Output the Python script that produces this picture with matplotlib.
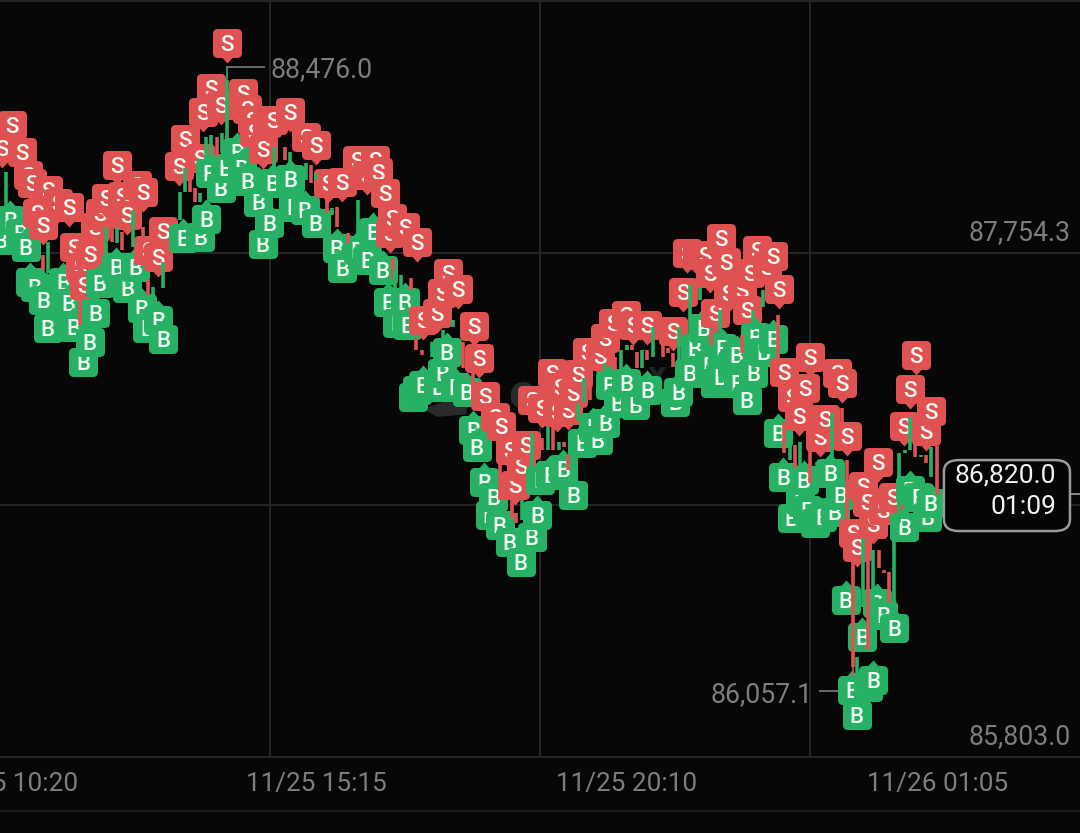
"""Price chart with buy/sell flags, dark theme."""
import matplotlib
matplotlib.use("Agg")
import matplotlib.pyplot as plt
from matplotlib.path import Path
from matplotlib.patches import FancyBboxPatch

plt.rcParams["font.family"] = ["Roboto", "DejaVu Sans"]

BG     = "#070707"
GRID   = "#262626"
RED    = "#e05252"
GREEN  = "#27b165"
LABEL  = "#7d7d7d"

# ── tick / grid values ───────────────────────────────────────────────────────
time_ticks  = [8, 346, 685, 1024]
time_labels = ["11/25 10:20", "11/25 15:15", "11/25 20:10", "11/26 01:05"]
grid_times  = [295, 590, 885]
grid_prices = [88730.0, 87754.3, 86778.6, 85803.0]
price_labels = [87754.3, 85803.0]
price_high  = 88476.0
price_low   = 86057.1
price_last  = 86820.0
countdown   = "01:09"

# ── sell flags ───────────────────────────────────────────────────────────────
sell_t = [13, 24, 31, 35, 52, 63, 75, 40, 47, 128, 150, 156, 133, 116, 109, 104, 139, 178, 162, 173,
          81, 98, 87, 92, 248, 231, 241, 222, 266, 270, 275, 278, 287, 292, 317, 298, 334, 345, 202,
          219, 196, 374, 358, 390, 2,
          410, 401, 413, 421, 428, 442, 456, 426, 489, 500, 483, 477, 462, 518, 523, 530, 541, 547,
          557, 575, 569, 563, 581, 592, 603, 612, 609, 621, 626, 632, 641, 656, 661, 670, 684, 692,
          707, 735, 746, 751, 762, 770, 776, 788, 793, 781, 811, 816, 827, 845, 819, 838, 851, 795,
          857, 885, 914, 920, 880, 865, 873, 896, 901, 925, 959, 943, 947, 965, 976, 954, 932, 936,
          1001, 994, 1017, 988, 1012]
sell_p = [88250, 88145, 88056, 88025, 87998, 87948, 87932, 87909, 87863, 88095, 88018, 87991, 87975,
          87967, 87909, 87855, 87902, 87840, 87766, 87739,
          87778, 87751, 87700, 87630, 88568, 88393, 88327, 88300, 88374, 88312, 88269, 88223, 88157,
          88258, 88300, 88269, 88204, 88173, 88196,
          88122, 88091, 88029, 88025, 88114, 88161,
          88114, 88056, 88068, 87987, 87890, 87855, 87797, 87832, 87677, 87615, 87600, 87522, 87495,
          87472, 87348, 87201, 87119, 87084,
          86992, 87011, 86930, 86856, 87185, 87154, 87290, 87236, 87139, 87146, 87212, 87286, 87371,
          87356, 87425, 87483, 87514, 87476,
          87476, 87452, 87603, 87754, 87747, 87747, 87677, 87812, 87720, 87522, 87611, 87534, 87766,
          87743, 87677, 87700, 87615, 87600,
          87294, 87352, 87290, 87251, 87232, 87197, 87123, 87042, 87112, 87046, 86945, 86852, 86790,
          86759, 86810, 86705, 86670, 86616,
          87359, 87228, 87143, 87084, 87065]

# ── buy flags ────────────────────────────────────────────────────────────────
buy_t = [11, 0, 22, 28, 33, 38, 47, 69, 75, 52, 80, 104, 98, 91, 127, 148, 109, 139, 155, 173, 161, 178,
         200, 219, 225, 229, 241, 246, 259, 264, 270, 282, 294, 287, 317, 298, 320, 333, 345, 368, 374,
         391, 408, 401, 418, 424, 442, 434, 445, 488, 483, 456, 451, 462, 479, 497, 510, 517, 521, 529,
         539, 535, 546, 557, 581, 587, 569, 590, 601, 615, 626, 636, 653, 648, 661, 666, 684, 675, 694,
         707, 738, 741, 753, 759, 768, 775, 787, 781, 789, 805, 800, 806, 823, 816, 825, 834, 845, 850,
         856, 878, 907, 918, 912, 874, 882, 865, 890, 898, 924, 958, 965, 977, 942, 954, 931, 948, 936,
         994, 1003, 1017, 1013, 988]
buy_p = [87882, 87805, 87832, 87778, 87642, 87623, 87572, 87642, 87561, 87464, 87468, 87522, 87410,
         87332, 87700, 87700, 87638, 87619, 87541, 87495, 87464, 87421,
         87812, 87816, 87886, 88064, 88006, 88084, 88145, 88084, 88033, 87952, 87871, 87789, 88041,
         88025, 87932, 87921, 87871, 87774, 87696,
         87766, 87836, 87727, 87689, 87565, 87565, 87483, 87476, 87371, 87290, 87224, 87197, 87243,
         87236, 87236, 87216, 87069, 87003, 86868,
         86810, 86740, 86701, 86635, 86655, 86740, 86558, 86875, 86895, 86918, 86817, 87019, 87030,
         87081, 87096, 87243, 87251, 87174, 87166,
         87224, 87177, 87216, 87290, 87387, 87464, 87321, 87274, 87251, 87387, 87359, 87321, 87251,
         87290, 87185, 87429, 87371, 87421, 87057,
         86887, 86875, 86902, 86817, 86752, 86798, 86759, 86728, 86709, 86732, 86411, 86399, 86353,
         86302, 86267, 86101, 86062, 86074, 85966,
         86837, 86810, 86786, 86732, 86693]

# ── candle bodies still visible between the flags ────────────────────────────
candle_t = [7, 47, 52, 87, 116, 128, 122, 133, 145, 156, 162, 167, 178, 184, 197, 202, 208, 213, 219,
            225, 231, 237, 243, 248, 268, 299, 311, 317, 334, 340, 345, 357, 363, 368, 380, 391,
            429, 432, 438, 449, 495, 455, 461, 472, 484, 506, 517, 535, 546, 559, 564, 570, 581, 592,
            599, 604, 611, 616, 621, 632, 638, 645, 661, 672, 678, 685, 691, 696, 701, 707, 713,
            724, 730, 735, 742, 754, 765, 777, 787, 794, 811, 823, 834, 850, 857, 863, 869, 874,
            885, 893, 909, 920, 925, 932, 936, 943, 948, 954, 960, 966, 971, 977, 982, 989, 994,
            1000, 1006, 1012, 1017, 1024]
candle_open = [87929, 87747, 87677, 87572, 87754, 87793, 87863, 87836, 87778, 87855, 87650, 87561,
               87619, 87754, 87882, 87991, 88049, 88006, 87952,
               88114, 88114, 88204, 88142, 88180, 88219, 88087, 88165, 88076, 88037, 88095, 88037,
               87960, 87902, 87932, 87832, 87832,
               87735, 87611, 87611, 87658, 87468, 87425, 87379, 87352, 87417, 87410, 87290, 86972,
               86941, 86798, 86748, 86721, 86825, 87038,
               86992, 87081, 86992, 87023, 86972, 87108, 87177, 87251, 87294, 87352, 87301, 87379,
               87398, 87371, 87309, 87379, 87352,
               87398, 87387, 87367, 87340, 87417, 87572, 87456, 87417, 87522, 87437, 87456, 87545,
               87514, 87096, 86953, 87011, 86922,
               87019, 86875, 86953, 87154, 86953, 86558, 86113, 86384, 86604, 86217, 86604, 86527,
               86519, 86399, 86709, 86980, 86992,
               87019, 86965, 86972, 86887, 87007]
candle_close = [88068, 87689, 87797, 87476, 87855, 87851, 87797, 87766, 87921, 87816, 87592, 87623,
                87720, 87689, 87991, 88084, 87991, 87952, 87987,
                88204, 88211, 88126, 88219, 88424, 88165, 88165, 88114, 88145, 88103, 88025, 88064,
                87909, 87929, 87855, 87793, 87960,
                87650, 87689, 87669, 87611, 87495, 87379, 87359, 87410, 87456, 87309, 87243, 87011,
                86798, 86728, 86709, 86798, 87057, 86992,
                87081, 86992, 87023, 87003, 86914, 87174, 87270, 87185, 87329, 87301, 87379, 87398,
                87379, 87309, 87379, 87340, 87468,
                87352, 87367, 87313, 87468, 87630, 87623, 87398, 87534, 87468, 87367, 87534, 87611,
                87348, 86980, 87069, 86922, 87023,
                86864, 86945, 87135, 87096, 86721, 86151, 86190, 86651, 86217, 86604, 86535, 86515,
                86399, 86643, 86980, 86992, 87119,
                86965, 86972, 86941, 87003, 86817]

# faint logo swoosh behind the flags
swoosh_t = [462, 510, 510, 478]
swoosh_p = [87150, 87210, 87130, 87120]


def flag_path(pointing_up):
    # rounded square with a small tip
    h, r, tip = 14.5, 5.0, 20.0
    s = 1 if pointing_up else -1
    verts = [(-h, -h * s + r * s), (-h, h * s - r * s), (-h, h * s), (-h + r, h * s),
             (-5, h * s), (0, tip * s), (5, h * s),
             (h - r, h * s), (h, h * s), (h, h * s - r * s),
             (h, -h * s + r * s), (h, -h * s), (h - r, -h * s),
             (-h + r, -h * s), (-h, -h * s), (-h, -h * s + r * s),
             (-h, -h * s + r * s)]
    codes = [Path.MOVETO, Path.LINETO, Path.CURVE3, Path.CURVE3,
             Path.LINETO, Path.LINETO, Path.LINETO,
             Path.LINETO, Path.CURVE3, Path.CURVE3,
             Path.LINETO, Path.CURVE3, Path.CURVE3,
             Path.LINETO, Path.CURVE3, Path.CURVE3,
             Path.CLOSEPOLY]
    return Path(verts, codes)


SELL_FLAG = flag_path(False)
BUY_FLAG  = flag_path(True)
FLAG_MS   = 28.8   # 40 px across the tip-to-tip box at dpi 100

fig = plt.figure(figsize=(10.8, 8.33), dpi=100, facecolor=BG)
ax = fig.add_axes([0, 0, 1, 1], facecolor=BG)
ax.set_xlim(0, 1180)
ax.set_ylim(85508.7, 88734.1)
ax.axis("off")

# ── grid ─────────────────────────────────────────────────────────────────────
for t in grid_times:
    ax.plot([t, t], [grid_prices[-1], grid_prices[0]], color=GRID, lw=1.4, zorder=1)
for p in grid_prices:
    ax.axhline(p, color=GRID, lw=1.4, zorder=1)
ax.axhline(85594, color="#1c1c1c", lw=1.4, zorder=1)

# watermark
ax.text(570, 87224, "e", color="#2a2a2a", fontsize=36, fontweight="bold",
        ha="center", va="center_baseline", zorder=2)
ax.text(718, 87290, "x", color="#222222", fontsize=26, fontweight="bold",
        ha="center", va="center_baseline", zorder=2)
ax.fill(swoosh_t, swoosh_p, color="#2a2a2a", lw=0, zorder=2)

# ── flags, oldest first so later ones cover earlier ones and their letters ───
flags = [(t, p, "S") for t, p in zip(sell_t, sell_p)] + [(t, p, "B") for t, p in zip(buy_t, buy_p)]
flags.sort(key=lambda f: f[0])
for i, (t, p, side) in enumerate(flags):
    z = 10 + i
    ax.plot([t], [p], ls="none", marker=SELL_FLAG if side == "S" else BUY_FLAG, ms=FLAG_MS,
            mfc=RED if side == "S" else GREEN, mec="none", zorder=z)
    ax.text(t, p, side, color="#eef7f0", fontsize=16, fontweight=500,
            ha="center", va="center_baseline", zorder=z + 0.5)

# ── candles on top ───────────────────────────────────────────────────────────
for t, o, c in zip(candle_t, candle_open, candle_close):
    ax.plot([t, t], [o, c], color=GREEN if c >= o else RED, lw=2.6, solid_capstyle="butt", zorder=1000)
ax.plot([248, 248], [88180, price_high], color=GREEN, lw=1.2, zorder=1000)
ax.plot([932, 932], [86151, price_low + 60], color=RED, lw=1.2, zorder=999)

# ── extreme labels ───────────────────────────────────────────────────────────
ax.plot([248, 288], [price_high, price_high], color="#6a6a6a", lw=1.4, zorder=1001)
ax.annotate(f"{price_high:,.1f}", (296, price_high), xytext=(0, -2), textcoords="offset points",
            color=LABEL, fontsize=19.2, ha="left", va="center", zorder=1001)
ax.plot([896, 928], [price_low, price_low], color="#6a6a6a", lw=1.4, zorder=5)
ax.annotate(f"{price_low:,.1f}", (888, price_low), xytext=(0, -2), textcoords="offset points",
            color=LABEL, fontsize=19.2, ha="right", va="center", zorder=1001)

# ── price labels on the right ────────────────────────────────────────────────
for p in price_labels:
    ax.annotate(f"{p:,.1f}", (1170, p), xytext=(0, 5), textcoords="offset points",
                color=LABEL, fontsize=19.2, ha="right", va="bottom", zorder=1001)

# ── time labels ──────────────────────────────────────────────────────────────
for t, lab in zip(time_ticks, time_labels):
    ax.text(t, 85697, lab, color=LABEL, fontsize=18.8, ha="center", va="center", zorder=1001)

# ── last-price box ───────────────────────────────────────────────────────────
ax.plot([1171, 1180], [price_last, price_last], color="#8a8a8a", lw=1.4, zorder=1001)
box = FancyBboxPatch((0.874, 0.3625), 0.1167, 0.0852, boxstyle="round,pad=0,rounding_size=0.014",
                     transform=ax.transAxes, fc="#050505", ec="#9a9a9a", lw=1.8, zorder=1002)
ax.add_patch(box)
ax.annotate(f"{price_last:,.1f}", (0.978, 0.4286), xycoords="axes fraction", color="#f2f2f2",
            fontsize=19, ha="right", va="center", zorder=1003)
ax.annotate(countdown, (0.978, 0.3914), xycoords="axes fraction", color="#f2f2f2",
            fontsize=19, ha="right", va="center", zorder=1003)

fig.savefig("out.png", dpi=100, facecolor=BG)
